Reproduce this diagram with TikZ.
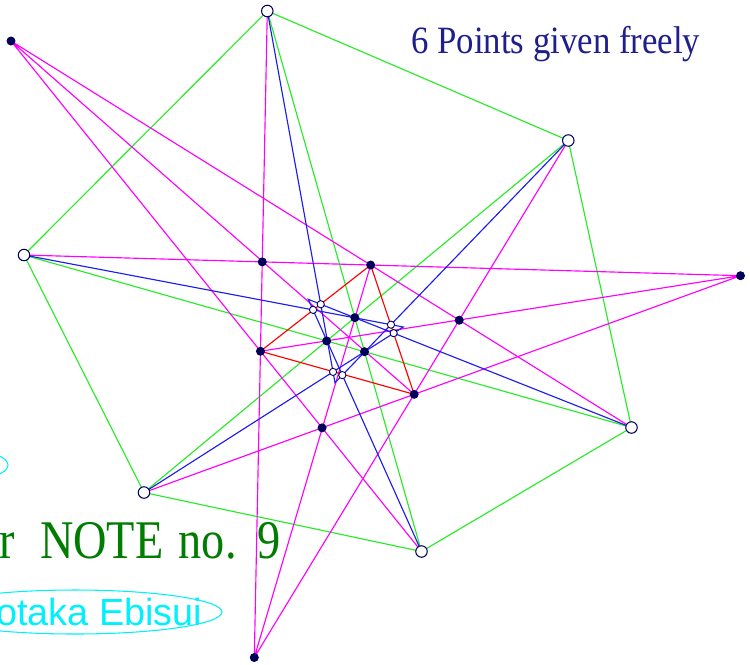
\documentclass[tikz,border=0pt]{standalone}
\usepackage{fontspec}
\setmainfont{Liberation Serif}
\setsansfont{Liberation Sans}
\usepackage{graphicx}

\definecolor{navy}{RGB}{0,0,90}
\definecolor{titleblue}{RGB}{30,30,140}
\definecolor{linegreen}{RGB}{40,235,40}
\definecolor{linemagenta}{RGB}{255,0,255}
\definecolor{lineblue}{RGB}{30,30,235}
\definecolor{linered}{RGB}{255,0,0}
\definecolor{notegreen}{RGB}{0,125,0}
\definecolor{namecyan}{RGB}{0,240,255}

\begin{document}
\begin{tikzpicture}[x=0.02cm,y=-0.02cm,
    side/.style={linegreen,line width=0.65pt},
    ray/.style={linemagenta,line width=0.65pt},
    cut/.style={lineblue,line width=0.65pt},
    tri/.style={linered,line width=0.65pt},
    freept/.style={circle,draw=navy,fill=white,line width=0.6pt,inner sep=0pt,minimum size=0.23cm},
    dot/.style={circle,fill=navy,inner sep=0pt,minimum size=0.18cm},
    meet/.style={circle,draw=navy,fill=white,line width=0.5pt,inner sep=0pt,minimum size=0.145cm}]

    \useasboundingbox (0,0) rectangle (750,664);

    % Six points given freely
    \coordinate (A) at (267.3,11);
    \coordinate (B) at (568.3,140.5);
    \coordinate (C) at (631.5,427.5);
    \coordinate (D) at (421.5,551.5);
    \coordinate (E) at (144,492.5);
    \coordinate (F) at (24,255);

    %% Outer points
    \coordinate (P1) at (11,41);
    \coordinate (P2) at (740.5,275.7);
    \coordinate (P3) at (254.3,657.5);

    %% Tips of the blue lines
    \coordinate (T1) at (308.3,299.3);
    \coordinate (T2) at (403.3,327);
    \coordinate (T3) at (335,382.7);

    % Points of meeting
    \coordinate (X1) at (intersection of A--P3 and F--P2);
    \coordinate (X2) at (intersection of F--P2 and C--P1);
    \coordinate (X3) at (intersection of C--P1 and B--P3);
    \coordinate (X4) at (intersection of B--P3 and E--P2);
    \coordinate (X5) at (intersection of E--P2 and D--P1);
    \coordinate (X6) at (intersection of D--P1 and A--P3);

    \coordinate (I1) at (intersection of A--D and B--E);
    \coordinate (I2) at (intersection of B--E and C--F);
    \coordinate (I3) at (intersection of C--F and A--D);

    \coordinate (W1) at (intersection of A--T3 and C--T1);
    \coordinate (W2) at (intersection of D--T1 and F--T2);
    \coordinate (W3) at (intersection of F--T2 and B--T3);
    \coordinate (W4) at (intersection of C--T1 and E--T2);
    \coordinate (W5) at (intersection of A--T3 and E--T2);
    \coordinate (W6) at (intersection of B--T3 and D--T1);

    % Green hexagon and diagonals
    \draw[side] (A) -- (B) -- (C) -- (D) -- (E) -- (F) -- cycle;
    \draw[side] (A) -- (D) (B) -- (E) (C) -- (F);

    % Magenta lines
    \draw[ray] (P1) -- (C) (P1) -- (D) (P1) -- (X4);
    \draw[ray] (P2) -- (E) (P2) -- (F) (P2) -- (X6);
    \draw[ray] (P3) -- (A) (P3) -- (B) (P3) -- (X2);

    % Blue lines
    \draw[cut] (A) -- (T3) -- (B);
    \draw[cut] (C) -- (T1) -- (D);
    \draw[cut] (E) -- (T2) -- (F);

    % Red triangle
    \draw[tri] (X2) -- (X4) -- (X6) -- cycle;

    % Points
    \foreach \p in {P1,P2,P3,X1,X2,X3,X4,X5,X6,I1,I2,I3}
        \node[dot] (d\p) at (\p) {};
    \foreach \p in {W1,W2,W3,W4,W5,W6}
        \node[meet] (m\p) at (\p) {};
    \foreach \p in {A,B,C,D,E,F}
        \node[freept] (f\p) at (\p) {};

    % Texts
    \node[anchor=base west,inner sep=0pt,text=titleblue,
          font=\fontsize{22}{26}\selectfont] (title) at (411,53)
          {\scalebox{0.9}[1]{6 Points given freely}};
    \node[anchor=base east,inner sep=0pt,text=notegreen,
          font=\fontsize{31}{36}\selectfont] (note) at (281,558)
          {\scalebox{0.85}[1]{r\hspace{0.55em}NOTE\hspace{0.33em}no.\hspace{0.45em}9}};
    \node[anchor=base west,inner sep=0pt,text=namecyan,
          font=\sffamily\fontsize{21.5}{26}\selectfont] (author) at (-4,625) {otaka Ebisui};

    %% Ellipses
    \draw[namecyan,line width=0.6pt] (75,612) ellipse [x radius=2.94cm,y radius=0.44cm];
    \draw[namecyan,line width=0.6pt] (-70,465) ellipse [x radius=1.56cm,y radius=0.4cm];

\end{tikzpicture}
\end{document}
